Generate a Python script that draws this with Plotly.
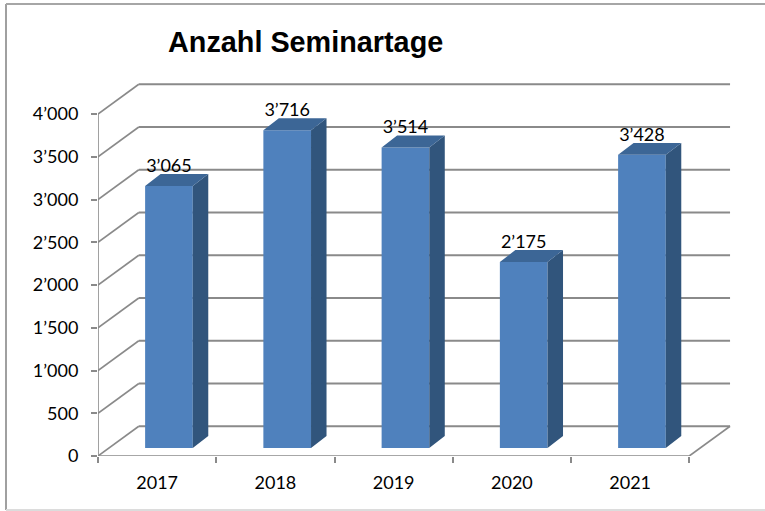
import plotly.graph_objects as go

years = ["2017", "2018", "2019", "2020", "2021"]
seminar_days = [3065, 3716, 3514, 2175, 3428]
y_ticks = [0, 500, 1000, 1500, 2000, 2500, 3000, 3500, 4000]
y_tick_labels = ["0", "500", "1’000", "1’500", "2’000", "2’500", "3’000", "3’500", "4’000"]
title_text = "Anzahl Seminartage"

GREY = "#8a8a8a"
WALL_DX, WALL_DZ = 0.345, 348
BAR_W, BAR_SHIFT, BAR_BASE = 0.403, 0.6, 94
SIDE_DX, SIDE_DZ = 0.131, 140
L, R, T, B = 98, 17, 71, 55
W_PX, H_PX = 765 - L - R, 511 - T - B
fmt = lambda v: f"{v:,}".replace(",", "’")

centers = [i + BAR_SHIFT for i in range(len(years))]
n = len(years)
fig = go.Figure()
fig.add_trace(go.Bar(x=centers, y=seminar_days, base=[BAR_BASE] * n, width=BAR_W,
                     marker=dict(color="#4F81BD", line=dict(width=0))))

side_x, side_y, top_x, top_y, lab_y = [], [], [], [], []
for c, v in zip(centers, seminar_days):
    xr, xl = c + BAR_W / 2, c - BAR_W / 2
    t = v + BAR_BASE
    side_x += [xr, xr + SIDE_DX, xr + SIDE_DX, xr, xr, None]
    side_y += [BAR_BASE, BAR_BASE + SIDE_DZ, t + SIDE_DZ, t, BAR_BASE, None]
    top_x += [xl, xl + SIDE_DX, xr + SIDE_DX, xr, xl, None]
    top_y += [t, t + SIDE_DZ, t + SIDE_DZ, t, t, None]
    lab_y.append(t + SIDE_DZ - 25)
fig.add_trace(go.Scatter(x=side_x, y=side_y, mode="lines", fill="toself", fillcolor="#31557C",
                         line=dict(width=0), hoverinfo="skip"))
fig.add_trace(go.Scatter(x=top_x, y=top_y, mode="lines", fill="toself", fillcolor="#3C6696",
                         line=dict(width=0), hoverinfo="skip"))
fig.add_trace(go.Scatter(x=centers, y=lab_y, mode="text", text=[fmt(v) for v in seminar_days],
                         textposition="top center", cliponaxis=False,
                         textfont=dict(family="Lato", size=18, color="black")))
# front axis lines
fig.add_trace(go.Scatter(x=[0, 0, n], y=[4000, 0, 0], mode="lines", cliponaxis=False,
                         line=dict(color=GREY, width=1.6), hoverinfo="skip"))

shapes = []
for v in y_ticks:
    shapes.append(dict(type="line", xref="x", yref="y", layer="below", x0=0, y0=v,
                       x1=WALL_DX, y1=v + WALL_DZ, line=dict(color=GREY, width=1.6)))
    shapes.append(dict(type="line", xref="x", yref="y", layer="below", x0=WALL_DX, y0=v + WALL_DZ,
                       x1=n + WALL_DX, y1=v + WALL_DZ, line=dict(color=GREY, width=2)))
shapes.append(dict(type="line", xref="x", yref="y", layer="below", x0=n, y0=0,
                   x1=n + WALL_DX, y1=WALL_DZ, line=dict(color=GREY, width=1.6)))

# chart frame, positioned in window pixels
px = lambda p: (p - L) / W_PX
py = lambda p: 1 - (p - T) / H_PX
frame = [((6, 4), (6, 510), "#a0a0a0", 2), ((6, 4), (765, 4), "#a6a6a6", 2), ((6, 510), (765, 510), "#dcdcdc", 2)]
for a, b, col, w in frame:
    shapes.append(dict(type="line", xref="paper", yref="paper", x0=px(a[0]), y0=py(a[1]),
                       x1=px(b[0]), y1=py(b[1]), line=dict(color=col, width=w)))

fig.update_layout(
    width=765, height=511, margin=dict(l=L, r=R, t=T, b=B, autoexpand=False),
    paper_bgcolor="white", plot_bgcolor="white", showlegend=False, shapes=shapes,
    title=dict(text=f"<b>{title_text}</b>", x=168 / 765, xanchor="left", y=1 - 42 / 511, yanchor="middle",
               font=dict(family="Liberation Sans", size=28.8, color="black")),
    xaxis=dict(range=[0, W_PX / 118.25], tickmode="array", tickvals=[i + 0.5 for i in range(n)], ticktext=years,
               ticks="", showgrid=False, zeroline=False, showline=False, ticklabelstandoff=14,
               tickfont=dict(family="Lato", size=18, color="black"),
               minor=dict(tickmode="array", tickvals=list(range(n + 1)), ticks="outside", ticklen=6,
                          tickcolor=GREY, tickwidth=1.5, showgrid=False)),
    yaxis=dict(range=[0, H_PX / 0.0855], tickmode="array", tickvals=y_ticks, ticktext=y_tick_labels,
               ticks="outside", ticklen=6, tickcolor=GREY, tickwidth=1.5, showgrid=False, zeroline=False,
               showline=False, ticklabelstandoff=9,
               tickfont=dict(family="Lato", size=18, color="black")),
)
fig.write_html("out.html", config=dict(displayModeBar=False),
               post_script="document.body.style.margin='0';document.documentElement.style.overflow='hidden';")
